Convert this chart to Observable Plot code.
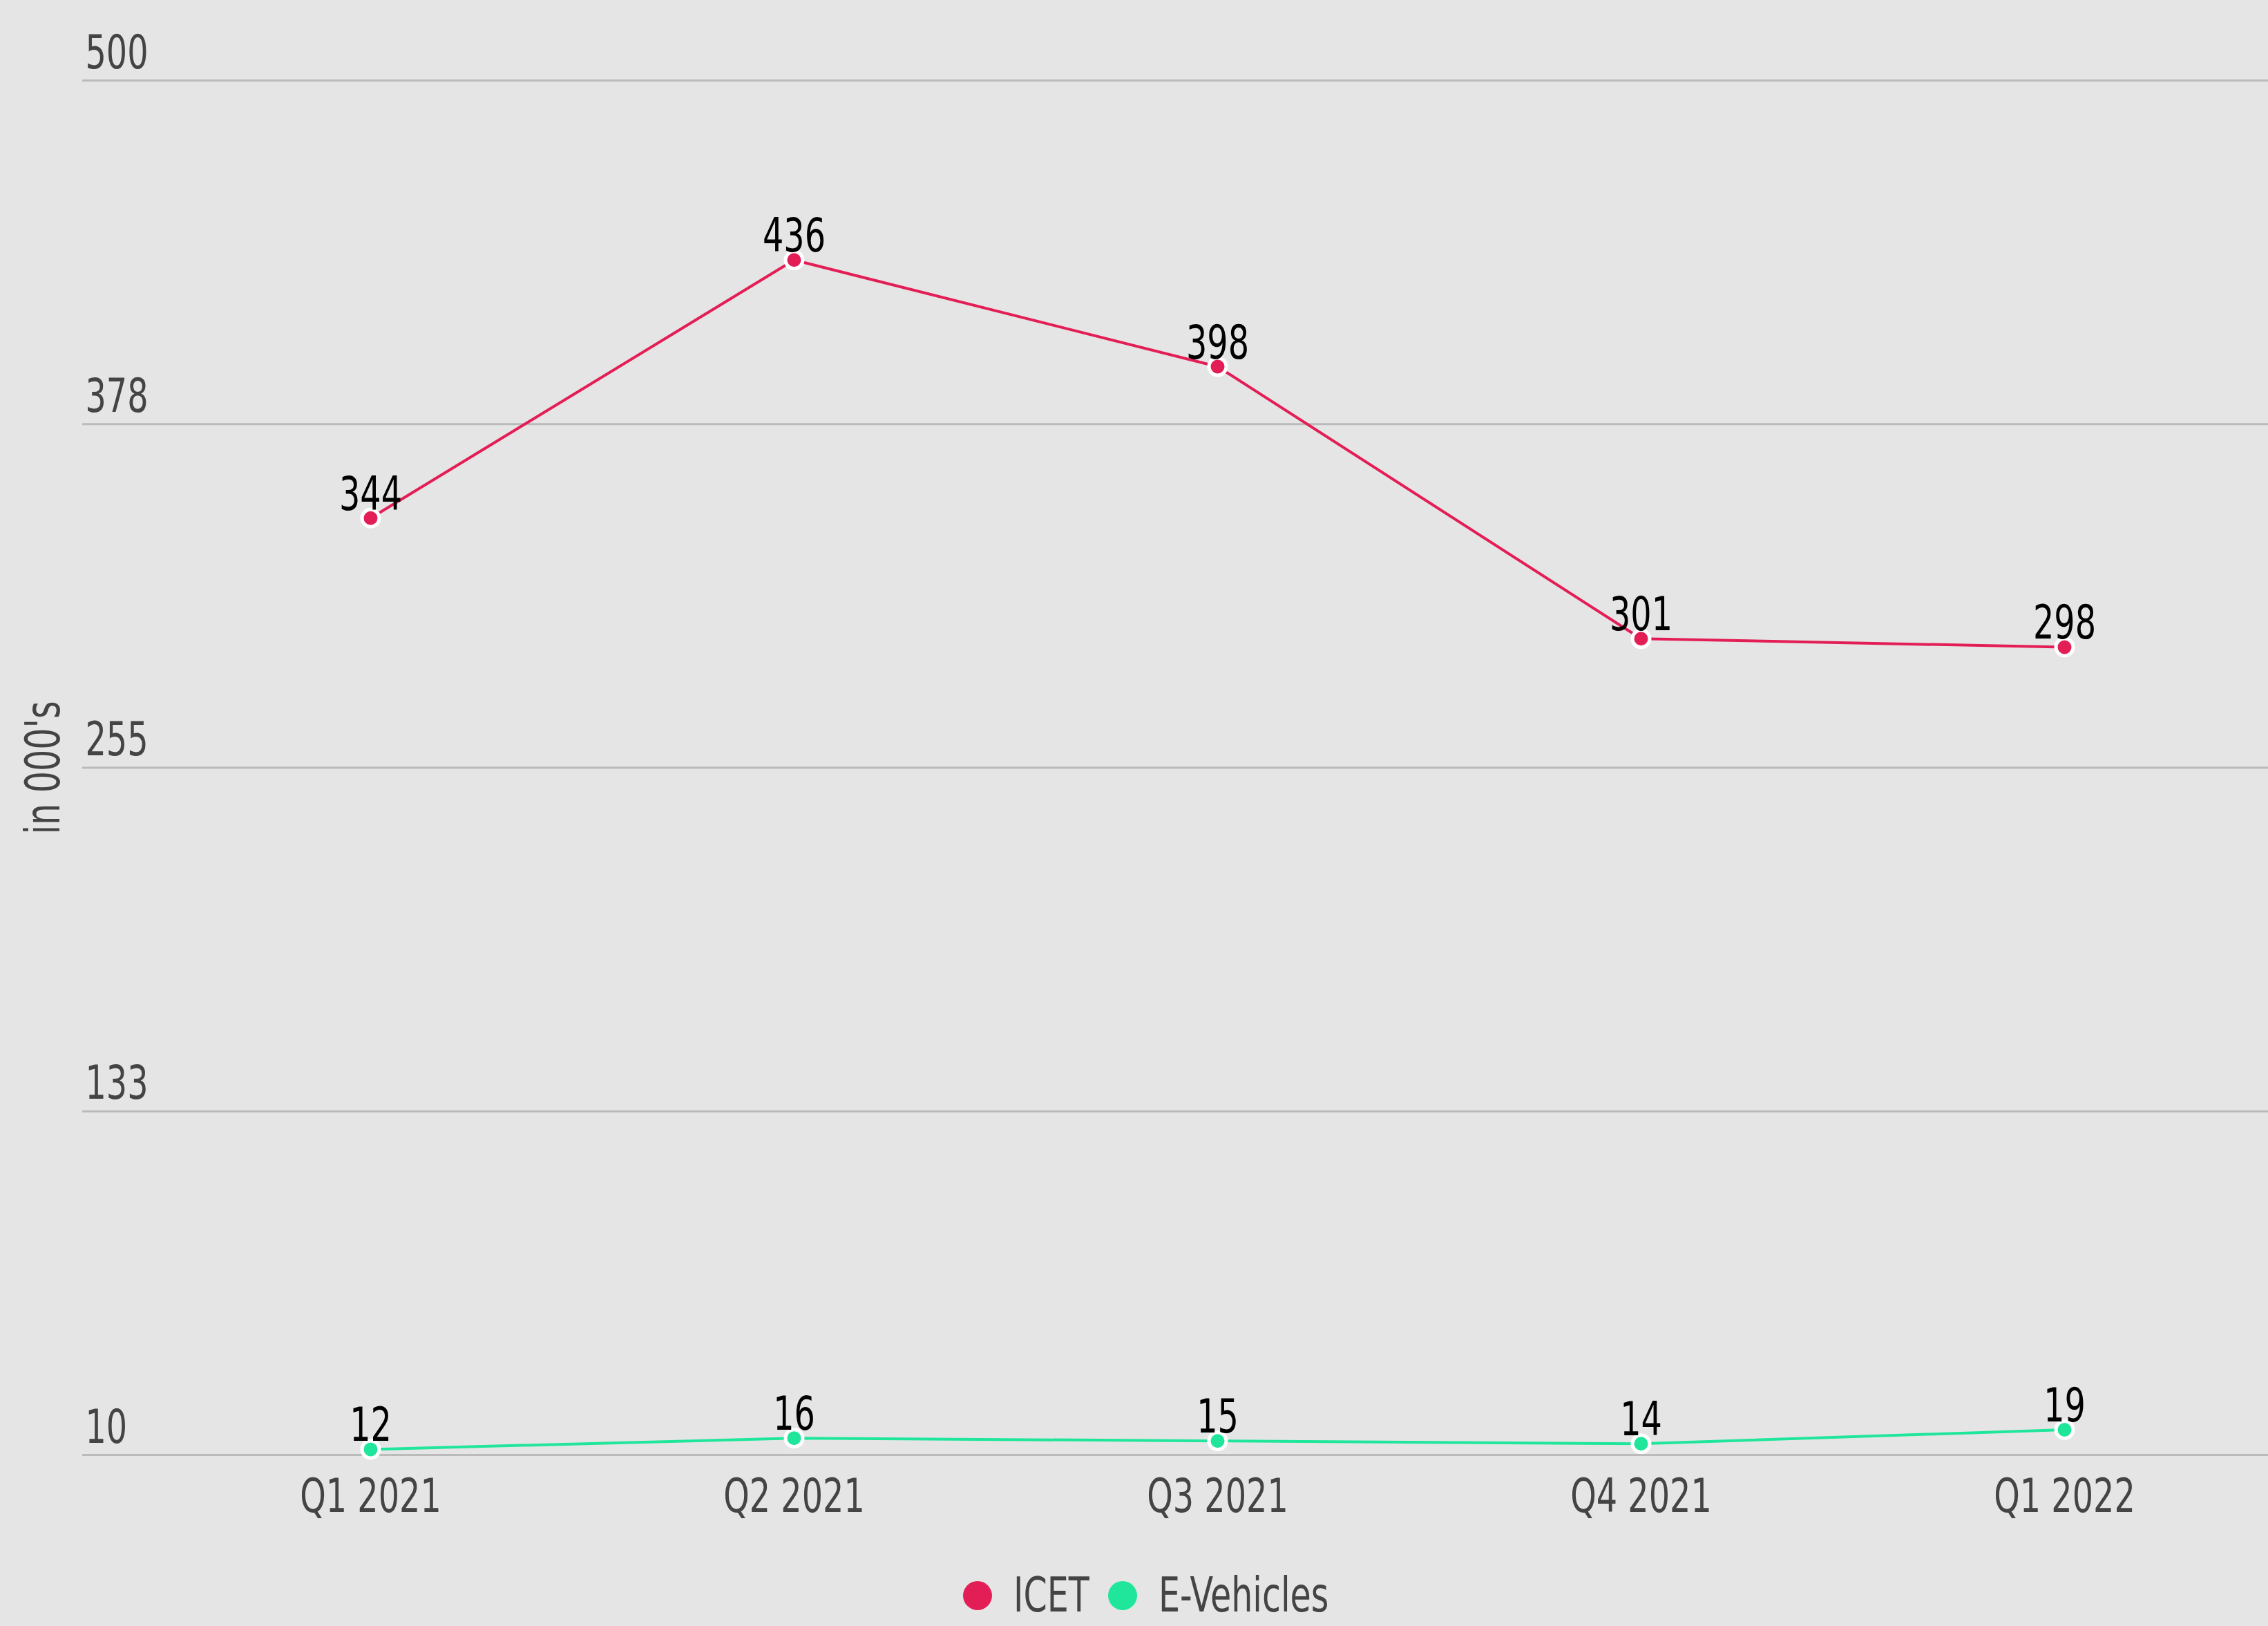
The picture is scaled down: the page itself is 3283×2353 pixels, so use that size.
<!DOCTYPE html>
<html>
<head>
<meta charset="utf-8">
<script src="https://cdn.jsdelivr.net/npm/d3@7"></script>
<script src="https://cdn.jsdelivr.net/npm/@observablehq/plot@0.6"></script>
<style>
  html, body { margin: 0; padding: 0; background: #e5e5e5; overflow: hidden; }
  body { width: 3283px; height: 2353px; font-family: "DejaVu Sans Condensed", "DejaVu Sans", sans-serif; }
  #legend { display: flex; align-items: center; justify-content: flex-start; height: 55px; margin-top: 11px; padding-left: 1394px; box-sizing: border-box; }
  .item { display: flex; align-items: center; font-size: 70px; line-height: 55px; height: 55px; color: #444; margin-right: 27px; }
  .sw { flex: none; width: 42px; height: 42px; border-radius: 50%; margin-right: 31px; }
  .lbl { display: inline-block; white-space: nowrap; overflow: visible; height: 55px; }
  .lbl span { display: inline-block; transform-origin: left center; }
</style>
</head>
<body>
<div id="chart"></div>
<div id="legend"></div>
<script>
const categories = ["Q1 2021", "Q2 2021", "Q3 2021", "Q4 2021", "Q1 2022"];
const icetValues = [344, 436, 398, 301, 298];
const evValues = [12, 16, 15, 14, 19];
const seriesNames = ["ICET", "E-Vehicles"];
const seriesColors = ["#e31e56", "#1fe69a"];
const yTickValues = [10, 132.5, 255, 377.5, 500];
const yTickLabels = ["10", "133", "255", "378", "500"];
const yTitle = "in 000's";

const rows = categories.flatMap((c, i) => [
  {cat: c, series: seriesNames[0], value: icetValues[i]},
  {cat: c, series: seriesNames[1], value: evValues[i]}
]);
const ticks = yTickValues.map((v, i) => ({v, label: yTickLabels[i]}));

const W = 3283, H = 2270;
const fontFamily = '"DejaVu Sans Condensed", "DejaVu Sans", sans-serif';
const squeeze = 0.78;

const chart = Plot.plot({
  width: W,
  height: H,
  marginLeft: 119,
  marginRight: 0,
  marginTop: 116,
  marginBottom: H - 2105,
  style: {background: "#e5e5e5", fontFamily, fontSize: "68px"},
  x: {type: "point", domain: categories, range: [535, 2988], padding: 0, axis: null},
  y: {domain: [10, 500], axis: null},
  color: {domain: seriesNames, range: seriesColors},
  marks: [
    Plot.ruleY(ticks, {y: "v", stroke: "#bbbbbb", strokeWidth: 3}),
    Plot.text(ticks, {y: "v", text: "label", frameAnchor: "left", textAnchor: "start", lineAnchor: "bottom", dx: 4, dy: -18, fill: "#444", fontSize: 68}),
    Plot.text(categories, {x: d => d, text: d => d, frameAnchor: "bottom", lineAnchor: "bottom", dy: 82, fill: "#444", fontSize: 68}),
    Plot.text([yTitle], {text: d => d, frameAnchor: "left", rotate: -90, textAnchor: "middle", lineAnchor: "bottom", dx: -34, fill: "#444", fontSize: 70}),
    Plot.line(rows, {x: "cat", y: "value", z: "series", stroke: "series", strokeWidth: 4}),
    Plot.dot(rows, {x: "cat", y: "value", fill: "series", stroke: "white", strokeWidth: 5, r: 12.5}),
    Plot.text(rows, {x: "cat", y: "value", text: d => String(d.value), lineAnchor: "bottom", dy: -12, fill: "black", fontSize: 68})
  ]
});
document.getElementById("chart").appendChild(chart);

// condense glyphs horizontally to mimic the narrow face of the original
chart.querySelectorAll("text").forEach(t => {
  const len = t.getComputedTextLength();
  if (len > 0) {
    t.setAttribute("textLength", (len * squeeze).toFixed(1));
    t.setAttribute("lengthAdjust", "spacingAndGlyphs");
  }
});

const legend = document.getElementById("legend");
seriesNames.forEach((name, i) => {
  const item = document.createElement("div");
  item.className = "item";
  const sw = document.createElement("span");
  sw.className = "sw";
  sw.style.background = seriesColors[i];
  const box = document.createElement("span");
  box.className = "lbl";
  const t = document.createElement("span");
  t.textContent = name;
  box.appendChild(t);
  item.appendChild(sw);
  item.appendChild(box);
  legend.appendChild(item);
  const w = t.getBoundingClientRect().width;
  t.style.transform = `scaleX(${squeeze})`;
  box.style.width = (w * squeeze) + "px";
});
</script>
</body>
</html>
